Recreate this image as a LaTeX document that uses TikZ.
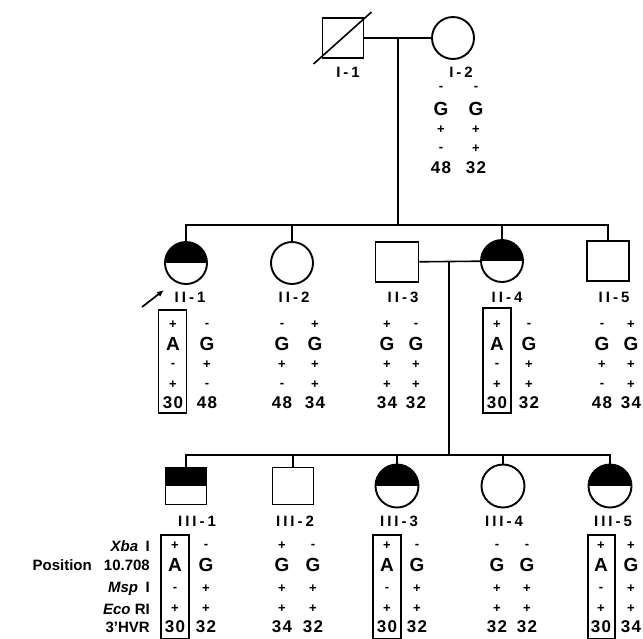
\documentclass[tikz,border=0pt]{standalone}
\usepackage{fontspec}
\setmainfont{Liberation Sans}
\newfontfamily\spaced[LetterSpace=20]{Liberation Sans}
\newfontfamily\digits[LetterSpace=8]{Liberation Sans}
\usetikzlibrary{arrows.meta, calc}

\begin{document}
\begin{tikzpicture}[
        x=1pt, y=-1pt,
        male/.style={rectangle, draw, line width=1.9pt, minimum width=41pt, minimum height=40pt, inner sep=0},
        female/.style={circle, draw, line width=1.9pt, minimum size=42pt, inner sep=0},
        affected/.style={path picture={\fill[black] (path picture bounding box.west) rectangle (path picture bounding box.north east);}},
        famline/.style={line width=1.6pt},
        lbl/.style={font=\spaced\bfseries\fontsize{15}{15}\selectfont, inner sep=0},
        sgn/.style={font=\bfseries\fontsize{13}{13}\selectfont, inner sep=0},
        base/.style={font=\bfseries\fontsize{19}{19}\selectfont, inner sep=0},
        num/.style={font=\digits\bfseries\fontsize{17}{17}\selectfont, inner sep=0},
        leg/.style={font=\bfseries\fontsize{15}{15}\selectfont, inner sep=0, anchor=east},
        hapbox/.style={rectangle, draw, line width=1.6pt, minimum width=28pt, inner sep=0},
        proband/.style={-{Latex[length=7pt, width=6pt]}, line width=1.7pt}
    ]
        \useasboundingbox (0,0) rectangle (643,638);

        % generation I
        \node[male] (i1) at (343,38) {};
        \node[female] (i2) at (453,38) {};
        \draw[famline] ([shift={(-8pt,-5pt)}]i1.south west) -- ([shift={(7pt,5pt)}]i1.north east);
        \node[lbl] (li1) at (348,72) {I-1};
        \node[lbl] (li2) at (461,72) {I-2};
        \draw[famline] (i1) -- (i2);
        \coordinate (m1) at (398,38);
        \coordinate (s2) at (398,225);
        \draw[famline] (m1) -- (s2);

        % generation II
        \node[female, affected] (ii1) at (186,263) {};
        \node[female] (ii2) at (292,263) {};
        \node[male, minimum width=43pt] (ii3) at (397,262) {};
        \node[female, affected] (ii4) at (502,261) {};
        \node[male, minimum width=42pt] (ii5) at (608,261) {};
        \node[lbl] (lii1) at (190,297) {II-1};
        \node[lbl] (lii2) at (294,297) {II-2};
        \node[lbl] (lii3) at (403,297) {II-3};
        \node[lbl] (lii4) at (507,297) {II-4};
        \node[lbl] (lii5) at (614,297) {II-5};
        \draw[famline] (ii1.north) -- (ii1 |- s2) -- (ii5 |- s2) -- (ii5.north);
        \draw[famline] (ii2.north) -- (ii2 |- s2);
        \draw[famline] (ii4.north) -- (ii4 |- s2);
        \draw[famline] (ii3) -- (ii4);
        \coordinate (m2) at (449,261);
        \coordinate (s3) at (449,455);
        \draw[famline] (m2) -- (s3);
        \coordinate (ptail) at (142,307);
        \coordinate (ptip) at (164,290);
        \draw[proband] (ptail) -- (ptip);

        % generation III
        \node[male, affected, minimum height=37pt] (iii1) at (186,486) {};
        \node[male, minimum height=37pt] (iii2) at (293,486) {};
        \node[female, affected, minimum size=43pt] (iii3) at (397,486) {};
        \node[female, minimum size=43pt] (iii4) at (503,486) {};
        \node[female, affected, minimum size=43pt] (iii5) at (610,486) {};
        \node[lbl] (liii1) at (197,521) {III-1};
        \node[lbl] (liii2) at (295,521) {III-2};
        \node[lbl] (liii3) at (399,521) {III-3};
        \node[lbl] (liii4) at (504,521) {III-4};
        \node[lbl] (liii5) at (613,521) {III-5};
        \draw[famline] (iii1.north) -- (iii1 |- s3) -- (iii5 |- s3) -- (iii5.north);
        \draw[famline] (iii2.north) -- (iii2 |- s3);
        \draw[famline] (iii3.north) -- (iii3 |- s3);
        \draw[famline] (iii4.north) -- (iii4 |- s3);

        % haplotypes
        \foreach \nm/\x/\a/\b/\c/\d/\e in {i2a/441/-/G/+/-/48, i2b/476/-/G/+/+/32}{
            \node[sgn] (\nm-1) at (\x,88) {\a};
            \node[base] (\nm-2) at (\x,109) {\b};
            \node[sgn] (\nm-3) at (\x,130) {\c};
            \node[sgn] (\nm-4) at (\x,149) {\d};
            \node[num] (\nm-5) at (\x,168) {\e};
        }
        \foreach \nm/\x/\a/\b/\c/\d/\e in {ii1a/173/+/A/-/+/30, ii1b/207/-/G/+/-/48,
                ii2a/282/-/G/+/-/48, ii2b/315/+/G/+/+/34,
                ii3a/387/+/G/+/+/34, ii3b/416/-/G/+/+/32,
                ii4a/497/+/A/-/+/30, ii4b/529/-/G/+/+/32,
                ii5a/602/-/G/+/-/48, ii5b/631/+/G/+/+/34}{
            \node[sgn] (\nm-1) at (\x,325) {\a};
            \node[base] (\nm-2) at (\x,344) {\b};
            \node[sgn] (\nm-3) at (\x,365) {\c};
            \node[sgn] (\nm-4) at (\x,385) {\d};
            \node[num] (\nm-5) at (\x,403) {\e};
        }
        \foreach \nm/\x/\a/\b/\c/\d/\e in {iii1a/175/+/A/-/+/30, iii1b/206/-/G/+/+/32,
                iii2a/282/+/G/+/+/34, iii2b/313/-/G/+/+/32,
                iii3a/387/+/A/-/+/30, iii3b/417/-/G/+/+/32,
                iii4a/497/-/G/+/+/32, iii4b/527/-/G/+/+/32,
                iii5a/601/+/A/-/+/30, iii5b/631/+/G/+/+/34}{
            \node[sgn] (\nm-1) at (\x,546) {\a};
            \node[base] (\nm-2) at (\x,565) {\b};
            \node[sgn] (\nm-3) at (\x,589) {\c};
            \node[sgn] (\nm-4) at (\x,609) {\d};
            \node[num] (\nm-5) at (\x,627) {\e};
        }
        \node[hapbox, minimum height=103pt] (bii1) at (172.5,361.5) {};
        \node[hapbox, minimum height=105pt] (bii4) at (497,360.5) {};
        \node[hapbox, minimum height=104pt] (biii1) at (175,587) {};
        \node[hapbox, minimum height=104pt] (biii3) at (387,587) {};
        \node[hapbox, minimum height=104pt, minimum width=27pt] (biii5) at (601.5,587) {};

        % legend
        \node[leg] (xba) at (150,546) {\textit{Xba}\enspace I};
        \node[leg] (pos) at (150,565) {10.708};
        \node[leg] (posname) at (92,565) {Position};
        \node[leg] (msp) at (150,589) {\textit{Msp}\enspace I};
        \node[leg] (eco) at (150,609) {\textit{Eco} RI};
        \node[leg] (hvr) at (150,627) {3'HVR};
    \end{tikzpicture}
\end{document}
